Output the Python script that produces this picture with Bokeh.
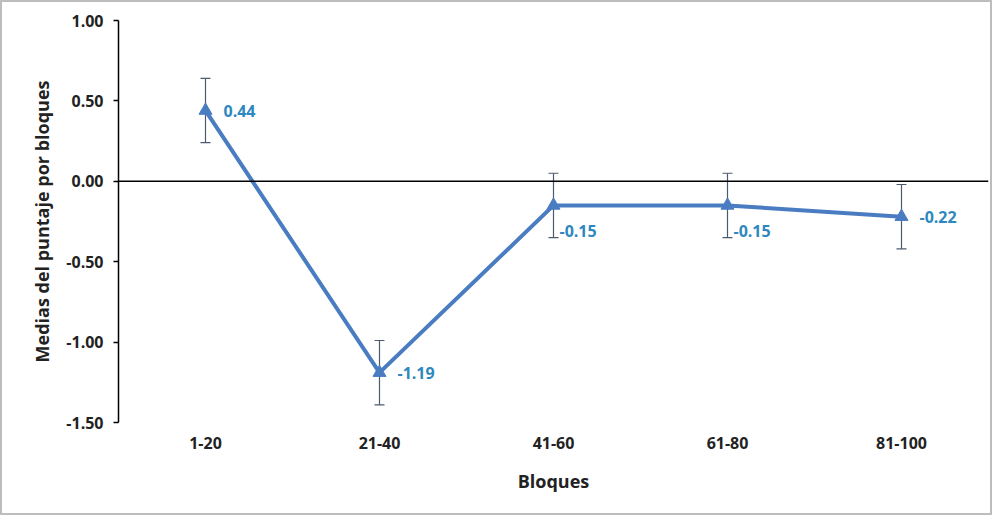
from bokeh.plotting import figure
from bokeh.models import (ColumnDataSource, FactorRange, Range1d, FixedTicker,
                          NumeralTickFormatter, Whisker, TeeHead, Span)
from bokeh.core.properties import value
from bokeh.embed import file_html
from bokeh.resources import INLINE

# ---- data ----
bloques = ["1-20", "21-40", "41-60", "61-80", "81-100"]
medias = [0.44, -1.19, -0.15, -0.15, -0.22]
error = [0.20, 0.20, 0.20, 0.20, 0.20]
etiquetas = ["0.44", "-1.19", "-0.15", "-0.15", "-0.22"]
y_ticks = [-1.5, -1.0, -0.5, 0.0, 0.5, 1.0]

# label placement (style)
lab_dx = [18, 18, 6, 6, 18]
lab_dy = [0, 0, 26, 26, 0]

FONT = "Open Sans"
LINE = "#4A7CC2"
LABC = "#2E88C0"

src = ColumnDataSource(dict(
    x=bloques, y=medias,
    upper=[m + e for m, e in zip(medias, error)],
    lower=[m - e for m, e in zip(medias, error)],
    lab=etiquetas, dx=lab_dx, dy=lab_dy,
))

p = figure(x_range=FactorRange(*bloques, range_padding=0),
           y_range=Range1d(-1.5, 1.0),
           width=992, height=515, output_backend="svg", toolbar_location=None,
           min_border_left=116, min_border_right=6, min_border_top=18,
           min_border_bottom=95)
p.styles = {"border": "2px solid #bdbdbd"}
p.outline_line_color = None
p.xgrid.grid_line_color = None
p.ygrid.grid_line_color = None
p.background_fill_color = "white"
p.border_fill_color = "white"

# zero line
p.add_layout(Span(location=0, dimension="width", line_color="black", line_width=1.5))

# error bars
wh = Whisker(source=src, base="x", upper="upper", lower="lower",
             line_color="#4d5a6e", line_width=1.2,
             upper_head=TeeHead(size=10, line_color="#4d5a6e", line_width=1.2),
             lower_head=TeeHead(size=10, line_color="#4d5a6e", line_width=1.2))
p.add_layout(wh)

p.line("x", "y", source=src, line_color=LINE, line_width=4)
p.scatter("x", "y", source=src, marker="triangle", size=13,
          fill_color=LINE, line_color=LINE)

p.text("x", "y", text="lab", source=src, x_offset="dx", y_offset="dy",
       text_font=value(FONT), text_font_style="bold", text_font_size="16px",
       text_color=LABC, text_baseline="middle", text_align="left")

# y axis
ya = p.yaxis[0]
ya.ticker = FixedTicker(ticks=y_ticks)
ya.formatter = NumeralTickFormatter(format="0.00")
ya.axis_line_color = "black"
ya.axis_line_width = 1.5
ya.major_tick_line_color = "black"
ya.major_tick_line_width = 1.5
ya.major_tick_out = 5
ya.major_tick_in = 0
ya.minor_tick_line_color = None
ya.major_label_text_font = FONT
ya.major_label_text_font_style = "bold"
ya.major_label_text_font_size = "16px"
ya.major_label_text_color = "#222222"
ya.major_label_standoff = 10
ya.axis_label = "Medias del puntaje por bloques"
ya.axis_label_text_font = FONT
ya.axis_label_text_font_style = "bold"
ya.axis_label_text_font_size = "18px"
ya.axis_label_text_color = "#222222"
ya.axis_label_standoff = 9

# x axis
xa = p.xaxis[0]
xa.axis_line_color = None
xa.major_tick_line_color = None
xa.minor_tick_line_color = None
xa.major_label_text_font = FONT
xa.major_label_text_font_style = "bold"
xa.major_label_text_font_size = "16px"
xa.major_label_text_color = "#222222"
xa.major_label_standoff = 8
xa.axis_label = "Bloques"
xa.axis_label_text_font = FONT
xa.axis_label_text_font_style = "bold"
xa.axis_label_text_font_size = "18px"
xa.axis_label_text_color = "#222222"
xa.axis_label_standoff = 17

open("out.html", "w").write(file_html(p, INLINE))
